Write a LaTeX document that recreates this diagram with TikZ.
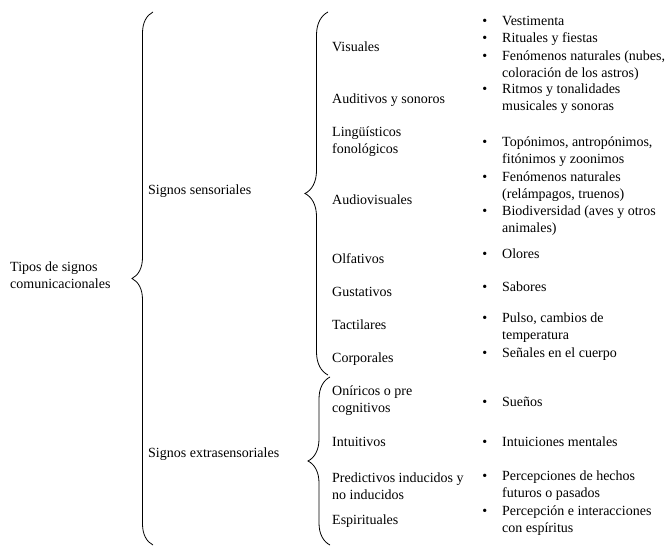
\documentclass[tikz,border=0pt]{standalone}
\usepackage{fontspec}
\setmainfont{Liberation Serif}
\usepackage{tikz}
\usetikzlibrary{decorations.pathreplacing}

\newcommand{\bul}{\llap{\textbullet\hspace{15pt}}}

\begin{document}
\begin{tikzpicture}[x=1pt, y=-1pt, every node/.style={anchor=west, align=left, inner sep=0pt, font=\fontsize{14}{17}\selectfont},
    brc/.style={decorate, decoration={brace, amplitude=#1}, line width=0.8pt}]
        \useasboundingbox (0,0) rectangle (670,546);
        \node (root) at (10,275) {Tipos de signos\\comunicacionales};
        \node (sens) at (148,191) {Signos sensoriales};
        \node (extra) at (148,454) {Signos extrasensoriales};

        \node (vis) at (332,47) {Visuales};
        \node (aud) at (332,100) {Auditivos y sonoros};
        \node (ling) at (332,142) {Lingüísticos\\fonológicos};
        \node (audv) at (332,200) {Audiovisuales};
        \node (olf) at (332,259) {Olfativos};
        \node (gus) at (332,292) {Gustativos};
        \node (tac) at (332,325) {Tactilares};
        \node (cor) at (332,359) {Corporales};
        \node (oni) at (332,401) {Oníricos o pre\\cognitivos};
        \node (intu) at (332,442) {Intuitivos};
        \node (pred) at (332,486) {Predictivos inducidos y\\no inducidos};
        \node (esp) at (332,521) {Espirituales};

        \node (vest) at (502,21) {\bul Vestimenta};
        \node (ritu) at (502,39) {\bul Rituales y fiestas};
        \node (fenv) at (502,65.5) {\bul Fenómenos naturales (nubes,\\coloración de los astros)};
        \node (ritm) at (502,99) {\bul Ritmos y tonalidades\\musicales y sonoras};
        \node (topo) at (502,151.5) {\bul Topónimos, antropónimos,\\fitónimos y zoonimos};
        \node (fena) at (502,186.5) {\bul Fenómenos naturales\\(relámpagos, truenos)};
        \node (biod) at (502,221) {\bul Biodiversidad (aves y otros\\animales)};
        \node (olor) at (502,254) {\bul Olores};
        \node (sabo) at (502,287) {\bul Sabores};
        \node (puls) at (502,327.5) {\bul Pulso, cambios de\\temperatura};
        \node (sena) at (502,354) {\bul Señales en el cuerpo};
        \node (suen) at (502,402) {\bul Sueños};
        \node (intm) at (502,442) {\bul Intuiciones mentales};
        \node (perh) at (502,486) {\bul Percepciones de hechos\\futuros o pasados};
        \node (pere) at (502,520.5) {\bul Percepción e interacciones\\con espíritus};

        % braces
        \coordinate (b1t) at (153,12);
        \coordinate (b1b) at (153,545);
        \coordinate (b2t) at (328,12);
        \coordinate (b2b) at (328,375);
        \coordinate (b3t) at (330,377);
        \coordinate (b3b) at (330,545);
        \draw[brc=21pt] (b1b) -- (b1t);
        \draw[brc=23pt] (b2b) -- (b2t);
        \draw[brc=22pt] (b3b) -- (b3t);
    \end{tikzpicture}
\end{document}
